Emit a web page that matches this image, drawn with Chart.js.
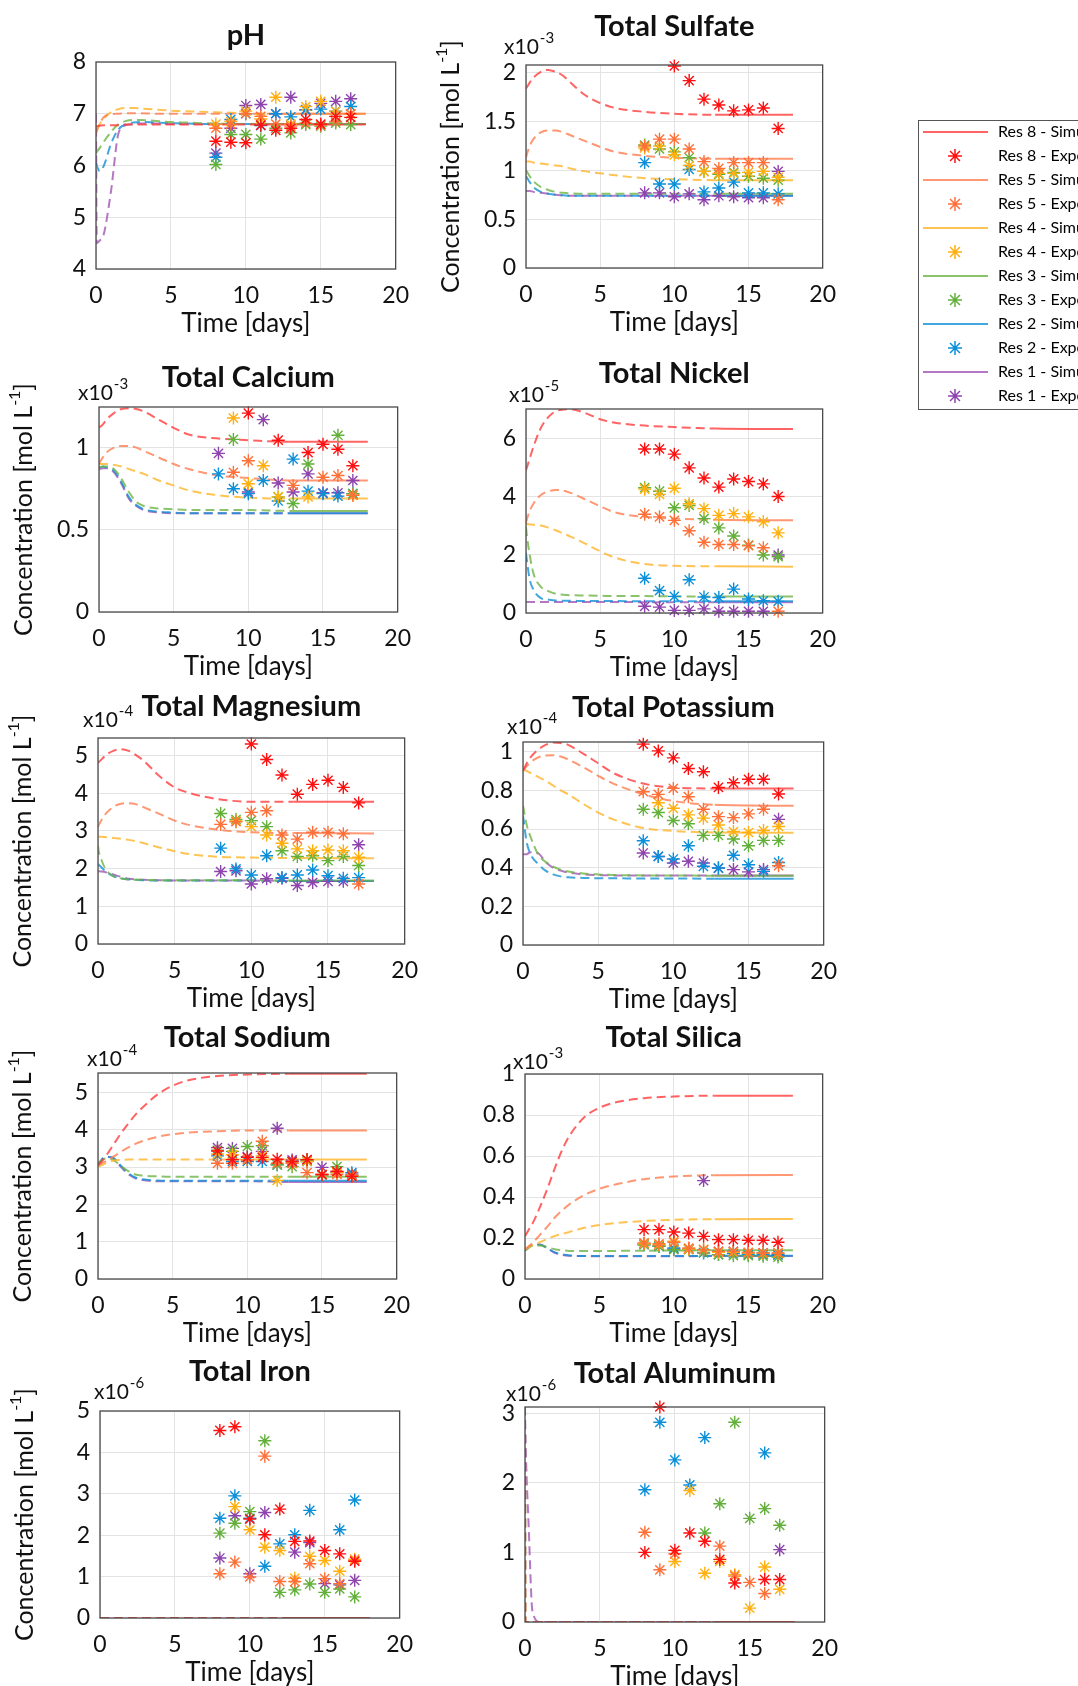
<!DOCTYPE html>
<html>
<head>
<meta charset="utf-8">
<title>Reservoir chemistry</title>
<script src="https://cdn.jsdelivr.net/npm/chart.js@4.4.1/dist/chart.umd.min.js"></script>
<style>
  html, body { margin: 0; padding: 0; background: #fff; overflow: hidden; }
  body { width: 1078px; height: 1686px; position: relative; }
  canvas.panel { position: absolute; }
  #legendBox { position: absolute; left: 918px; top: 120px; width: 200px; height: 288px;
               border: 1.5px solid #555; overflow: hidden; background: #fff; }
  #legendBox canvas { position: absolute; left: -7px; top: -5px; }
</style>
</head>
<body>
<div id="legendBox"><canvas id="legend" width="500" height="340"></canvas></div>
<script>
// Series (same order everywhere): Res 8, Res 5, Res 4, Res 3, Res 2, Res 1
const SERIES = ['Res 8', 'Res 5', 'Res 4', 'Res 3', 'Res 2', 'Res 1'];
const DAYS = [8, 9, 10, 11, 12, 13, 14, 15, 16, 17];
const T_SIM = [0, 0.05, 0.25, 0.5, 1, 1.5, 2, 2.5, 3, 4, 5, 6, 8, 10, 12.75, 18];
const T_SIM_IRON = [0, 12.75, 18];
const T_SIM_AL = [0, 0.02, 0.25, 0.5, 1, 12.75, 18];
const SOLID_FROM = 12.75;

// pH
const PH_SIM = [
  [6.76, 6.76, 6.77, 6.78, 6.78, 6.78, 6.79, 6.79, 6.79, 6.79, 6.79, 6.79, 6.79, 6.79, 6.79, 6.79],
  [6.62, 6.66, 6.8, 6.93, 6.99, 7.0, 7.01, 7.01, 7.01, 7.0, 7.0, 7.0, 7.0, 7.0, 7.0, 7.0],
  [6.7, 6.72, 6.8, 6.9, 7.03, 7.09, 7.11, 7.11, 7.1, 7.08, 7.06, 7.05, 7.03, 7.01, 7.0, 7.0],
  [6.24, 6.26, 6.34, 6.45, 6.65, 6.8, 6.86, 6.88, 6.88, 6.86, 6.84, 6.83, 6.81, 6.8, 6.8, 6.8],
  [6.05, 6.0, 5.89, 5.98, 6.42, 6.7, 6.8, 6.83, 6.84, 6.83, 6.82, 6.81, 6.8, 6.8, 6.8, 6.8],
  [7.0, 4.5, 4.55, 4.65, 5.5, 6.62, 6.78, 6.8, 6.81, 6.81, 6.8, 6.8, 6.8, 6.8, 6.8, 6.8]
];
const PH_EXP = [
  [6.47, 6.45, 6.44, 6.78, 6.68, 6.72, 6.89, 6.8, 6.95, 6.93],
  [6.72, 6.8, 7.0, 6.95, 6.8, 6.76, 6.82, 6.78, 6.85, 7.0],
  [6.8, 6.85, 7.05, 6.9, 7.32, 6.8, 7.14, 7.24, 7.05, 7.0],
  [6.02, 6.6, 6.6, 6.51, 6.72, 6.63, 6.79, 6.76, 6.82, 6.79],
  [6.16, 6.89, 7.0, 6.77, 7.0, 6.94, 7.07, 7.09, 7.05, 7.14],
  [6.24, 6.72, 7.16, 7.18, 7.0, 7.32, 7.08, 7.2, 7.24, 7.29]
];

// Total sulfate (x10^-3 mol/L)
const SO4_SIM = [
  [1.84, 1.85, 1.9, 1.95, 2.01, 2.03, 2.01, 1.97, 1.9, 1.77, 1.69, 1.64, 1.6, 1.58, 1.57, 1.57],
  [1.13, 1.16, 1.25, 1.32, 1.39, 1.41, 1.41, 1.39, 1.36, 1.3, 1.24, 1.19, 1.15, 1.13, 1.12, 1.12],
  [1.09, 1.09, 1.09, 1.08, 1.07, 1.06, 1.05, 1.04, 1.02, 0.99, 0.97, 0.95, 0.92, 0.91, 0.9, 0.9],
  [1.0, 0.99, 0.94, 0.89, 0.83, 0.8, 0.78, 0.77, 0.765, 0.76, 0.76, 0.76, 0.76, 0.76, 0.76, 0.76],
  [0.94, 0.93, 0.88, 0.83, 0.78, 0.76, 0.75, 0.745, 0.74, 0.74, 0.74, 0.74, 0.74, 0.74, 0.74, 0.74],
  [0.79, 0.79, 0.79, 0.78, 0.77, 0.76, 0.75, 0.745, 0.74, 0.74, 0.74, 0.74, 0.74, 0.74, 0.74, 0.74]
];
const SO4_EXP = [
  [null, null, 2.07, 1.92, 1.73, 1.67, 1.61, 1.62, 1.64, 1.43],
  [1.25, 1.32, 1.32, 1.22, 1.09, 1.02, 1.08, 1.08, 1.08, 0.7],
  [1.23, 1.25, 1.16, 1.05, 0.99, 0.97, 0.97, 0.98, 0.99, 0.93],
  [1.26, 1.22, 1.19, 1.13, 0.99, 0.96, 0.98, 0.94, 0.92, 0.9],
  [1.08, 0.86, 0.86, 1.01, 0.78, 0.82, 0.88, 0.77, 0.77, 0.76],
  [0.77, 0.77, 0.73, 0.76, 0.7, 0.74, 0.73, 0.72, 0.72, 0.99]
];

// Total calcium (x10^-3 mol/L)
const CA_SIM = [
  [1.12, 1.125, 1.14, 1.17, 1.21, 1.235, 1.24, 1.235, 1.22, 1.17, 1.12, 1.08, 1.055, 1.045, 1.035, 1.035],
  [0.9, 0.91, 0.94, 0.97, 1.0, 1.01, 1.01, 1.0, 0.98, 0.94, 0.9, 0.87, 0.83, 0.815, 0.8, 0.8],
  [0.9, 0.9, 0.9, 0.9, 0.895, 0.885, 0.87, 0.855, 0.84, 0.8, 0.77, 0.74, 0.71, 0.695, 0.69, 0.69],
  [0.88, 0.88, 0.885, 0.885, 0.87, 0.81, 0.73, 0.67, 0.645, 0.63, 0.625, 0.62, 0.62, 0.62, 0.615, 0.615],
  [0.88, 0.88, 0.885, 0.88, 0.86, 0.79, 0.7, 0.65, 0.625, 0.61, 0.605, 0.6, 0.6, 0.6, 0.6, 0.6],
  [0.87, 0.87, 0.875, 0.875, 0.85, 0.78, 0.69, 0.645, 0.62, 0.605, 0.6, 0.6, 0.6, 0.6, 0.6, 0.6]
];
const CA_EXP = [
  [null, null, 1.21, null, 1.045, null, 0.97, 1.02, 0.99, 0.89],
  [null, 0.85, 0.92, null, null, 0.77, null, 0.82, 0.83, 0.71],
  [null, 1.18, 0.78, 0.89, 0.7, null, 0.7, null, null, 0.71],
  [null, 1.05, null, null, 0.7, 0.66, 0.9, null, 1.075, 0.72],
  [0.84, 0.75, 0.72, 0.8, 0.675, 0.93, 0.735, 0.72, 0.705, 0.72],
  [0.965, null, 0.73, 1.17, 0.785, 0.73, 0.84, 0.725, 0.725, 0.8]
];

// Total nickel (x10^-5 mol/L)
const NI_SIM = [
  [4.9, 4.98, 5.3, 5.7, 6.35, 6.72, 6.92, 6.98, 6.99, 6.86, 6.65, 6.53, 6.43, 6.38, 6.33, 6.31],
  [3.1, 3.2, 3.5, 3.75, 4.05, 4.17, 4.22, 4.2, 4.12, 3.9, 3.66, 3.45, 3.3, 3.24, 3.2, 3.18],
  [3.05, 3.05, 3.04, 3.03, 3.0, 2.93, 2.84, 2.73, 2.62, 2.38, 2.12, 1.9, 1.68, 1.62, 1.6, 1.59],
  [2.95, 2.7, 2.0, 1.36, 0.9, 0.75, 0.66, 0.63, 0.61, 0.6, 0.59, 0.58, 0.58, 0.57, 0.57, 0.57],
  [2.05, 1.85, 1.15, 0.8, 0.51, 0.46, 0.43, 0.42, 0.42, 0.41, 0.41, 0.41, 0.4, 0.4, 0.4, 0.4],
  [0.38, 0.38, 0.38, 0.38, 0.38, 0.38, 0.38, 0.38, 0.38, 0.38, 0.38, 0.38, 0.37, 0.37, 0.37, 0.37]
];
const NI_EXP = [
  [5.63, 5.63, 5.45, 4.98, 4.63, 4.32, 4.6, 4.51, 4.43, 4.0],
  [3.39, 3.3, 3.18, 2.82, 2.43, 2.35, 2.35, 2.31, 2.24, 0.06],
  [4.25, 4.07, 4.28, 3.75, 3.58, 3.35, 3.41, 3.3, 3.13, 2.75],
  [4.3, 4.18, 3.61, 3.69, 3.24, 2.92, 2.64, 2.33, 1.99, 1.93],
  [1.19, 0.77, 0.57, 1.14, 0.55, 0.53, 0.82, 0.48, 0.42, 0.4],
  [0.23, 0.2, 0.09, 0.09, 0.14, 0.06, 0.06, 0.06, 0.06, 1.99]
];

// Total magnesium (x10^-4 mol/L)
const MG_SIM = [
  [4.8, 4.82, 4.9, 5.0, 5.12, 5.16, 5.12, 5.0, 4.85, 4.45, 4.15, 4.0, 3.83, 3.77, 3.77, 3.77],
  [3.1, 3.15, 3.3, 3.45, 3.63, 3.72, 3.73, 3.7, 3.62, 3.45, 3.27, 3.15, 3.02, 2.96, 2.94, 2.93],
  [2.84, 2.84, 2.84, 2.83, 2.81, 2.79, 2.76, 2.72, 2.67, 2.56, 2.46, 2.38, 2.31, 2.29, 2.28, 2.27],
  [2.6, 2.45, 2.2, 1.98, 1.8, 1.74, 1.71, 1.7, 1.7, 1.69, 1.69, 1.69, 1.69, 1.69, 1.68, 1.68],
  [2.12, 2.1, 2.02, 1.92, 1.8, 1.74, 1.71, 1.7, 1.69, 1.68, 1.68, 1.68, 1.68, 1.68, 1.67, 1.67],
  [1.93, 1.93, 1.92, 1.9, 1.84, 1.78, 1.73, 1.71, 1.7, 1.69, 1.68, 1.68, 1.68, 1.68, 1.67, 1.67]
];
const MG_EXP = [
  [null, null, 5.3, 4.89, 4.48, 3.97, 4.23, 4.34, 4.15, 3.74],
  [3.17, 3.24, 3.49, 3.53, 2.89, 2.78, 2.96, 2.96, 2.92, 1.59],
  [null, 3.26, 3.11, 2.89, 2.67, 2.52, 2.47, 2.49, 2.47, 2.3],
  [3.46, 3.3, 3.27, 3.11, 2.47, 2.32, 2.34, 2.21, 2.32, 2.08],
  [2.54, 1.99, 1.83, 2.34, 1.76, 1.83, 1.96, 1.81, 1.74, 1.76],
  [1.92, 1.94, 1.59, 1.73, 1.74, 1.55, 1.63, 1.66, 1.66, 2.63]
];

// Total potassium (x10^-4 mol/L)
const K_SIM = [
  [0.905, 0.91, 0.94, 0.97, 1.01, 1.035, 1.047, 1.045, 1.035, 0.99, 0.94, 0.89, 0.835, 0.815, 0.81, 0.81],
  [0.9, 0.905, 0.925, 0.945, 0.97, 0.98, 0.982, 0.975, 0.96, 0.92, 0.875, 0.835, 0.78, 0.745, 0.725, 0.72],
  [0.905, 0.905, 0.9, 0.89, 0.87, 0.85, 0.825, 0.8, 0.78, 0.73, 0.685, 0.65, 0.605, 0.59, 0.582, 0.58],
  [0.72, 0.7, 0.62, 0.56, 0.47, 0.43, 0.405, 0.39, 0.38, 0.37, 0.365, 0.362, 0.36, 0.36, 0.358, 0.358],
  [0.67, 0.64, 0.53, 0.47, 0.42, 0.385, 0.365, 0.355, 0.35, 0.347, 0.345, 0.345, 0.344, 0.344, 0.343, 0.343],
  [0.47, 0.47, 0.47, 0.48, 0.475, 0.43, 0.4, 0.385, 0.375, 0.365, 0.362, 0.36, 0.36, 0.36, 0.36, 0.36]
];
const K_EXP = [
  [1.039, 1.004, 0.968, 0.913, 0.896, 0.815, 0.839, 0.857, 0.857, 0.781],
  [0.793, 0.779, 0.81, 0.767, 0.702, 0.664, 0.659, 0.678, 0.702, 0.41],
  [null, 0.736, 0.707, 0.673, 0.656, 0.621, 0.587, 0.582, 0.592, 0.613],
  [0.702, 0.685, 0.644, 0.627, 0.567, 0.567, 0.548, 0.513, 0.541, 0.541],
  [0.539, 0.458, 0.445, 0.513, 0.407, 0.398, 0.464, 0.415, 0.381, 0.427],
  [0.476, 0.458, 0.424, 0.433, 0.424, 0.398, 0.39, 0.378, 0.39, 0.65]
];

// Total sodium (x10^-4 mol/L)
const NA_SIM = [
  [3.05, 3.07, 3.15, 3.28, 3.58, 3.88, 4.15, 4.4, 4.6, 4.95, 5.18, 5.32, 5.44, 5.48, 5.5, 5.5],
  [3.05, 3.06, 3.1, 3.15, 3.27, 3.4, 3.52, 3.62, 3.7, 3.81, 3.88, 3.92, 3.96, 3.98, 3.98, 3.98],
  [3.0, 3.01, 3.05, 3.1, 3.17, 3.19, 3.2, 3.2, 3.2, 3.2, 3.2, 3.2, 3.2, 3.2, 3.2, 3.2],
  [3.1, 3.12, 3.18, 3.23, 3.2, 3.04, 2.9, 2.8, 2.77, 2.75, 2.74, 2.74, 2.74, 2.74, 2.74, 2.74],
  [3.05, 3.08, 3.2, 3.27, 3.25, 3.05, 2.85, 2.72, 2.67, 2.64, 2.63, 2.63, 2.63, 2.63, 2.63, 2.63],
  [3.05, 3.08, 3.2, 3.28, 3.24, 3.02, 2.82, 2.7, 2.65, 2.62, 2.62, 2.62, 2.62, 2.62, 2.6, 2.6]
];
const NA_EXP = [
  [3.43, 3.2, 3.26, 3.26, 3.21, 3.15, 3.2, 2.8, 2.88, 2.75],
  [3.1, 3.1, 3.19, 3.69, 3.1, 3.1, 2.85, 2.8, 2.8, 2.78],
  [3.35, 3.33, 3.2, 3.3, 2.64, 3.1, 3.15, 2.8, 2.85, 2.75],
  [3.45, 3.42, 3.55, 3.57, 3.06, 3.01, 3.19, 2.79, 3.01, 2.78],
  [3.3, 3.15, 3.15, 3.15, 3.06, 3.15, 3.15, 2.79, 2.85, 2.85],
  [3.52, 3.5, 3.28, 3.42, 4.04, 3.19, 3.19, 2.99, 2.88, 2.81]
];

// Total silica (x10^-3 mol/L)
const SI_SIM = [
  [0.21, 0.215, 0.24, 0.27, 0.35, 0.44, 0.54, 0.63, 0.7, 0.79, 0.835, 0.86, 0.882, 0.89, 0.894, 0.894],
  [0.145, 0.148, 0.16, 0.175, 0.215, 0.255, 0.3, 0.335, 0.365, 0.41, 0.44, 0.46, 0.487, 0.5, 0.506, 0.507],
  [0.145, 0.147, 0.155, 0.165, 0.18, 0.195, 0.21, 0.22, 0.23, 0.25, 0.263, 0.272, 0.283, 0.289, 0.292, 0.293],
  [0.14, 0.142, 0.152, 0.162, 0.164, 0.155, 0.145, 0.14, 0.137, 0.136, 0.136, 0.137, 0.138, 0.139, 0.14, 0.14],
  [0.14, 0.142, 0.155, 0.165, 0.167, 0.15, 0.13, 0.12, 0.115, 0.112, 0.112, 0.112, 0.112, 0.112, 0.113, 0.113],
  [0.14, 0.143, 0.156, 0.166, 0.168, 0.15, 0.128, 0.118, 0.114, 0.112, 0.111, 0.111, 0.111, 0.111, 0.112, 0.112]
];
const SI_EXP = [
  [0.241, 0.241, 0.229, 0.224, 0.208, 0.192, 0.192, 0.189, 0.189, 0.179],
  [0.176, 0.172, 0.179, 0.151, 0.143, 0.135, 0.135, 0.13, 0.127, 0.127],
  [0.172, 0.167, 0.184, 0.146, 0.143, 0.13, 0.13, 0.127, 0.125, 0.125],
  [0.167, 0.159, 0.143, 0.143, 0.13, 0.119, 0.114, 0.114, 0.111, 0.107],
  [0.167, 0.159, 0.151, 0.146, 0.127, 0.119, 0.124, 0.119, 0.119, 0.117],
  [0.172, 0.163, 0.146, 0.146, 0.48, 0.135, 0.135, 0.127, 0.127, 0.119]
];

// Total iron (x10^-6 mol/L)
const FE_SIM = [
  [0, 0, 0], [0, 0, 0], [0, 0, 0], [0, 0, 0], [0, 0, 0], [0, 0, 0]
];
const FE_EXP = [
  [4.53, 4.62, 2.39, 2.01, 2.63, 1.85, 1.86, 1.63, 1.55, 1.37],
  [1.07, 1.35, 0.99, 3.91, 0.88, 0.88, 1.31, 0.95, 0.83, 1.39],
  [null, 2.69, 2.13, 1.71, 1.63, 0.96, 1.49, 1.39, 1.13, 1.42],
  [2.05, 2.29, 2.57, 4.28, 0.62, 0.68, 0.82, 0.62, 0.7, 0.51],
  [2.41, 2.95, 2.41, 1.25, 1.79, 2.01, 2.6, null, 2.13, 2.85],
  [1.45, 2.47, 1.07, 2.55, null, 1.59, 1.82, 0.83, 0.8, 0.91]
];

// Total aluminum (x10^-6 mol/L)
const AL_SIM = [
  [3.1, 0, 0, 0, 0, 0, 0],
  [3.1, 0, 0, 0, 0, 0, 0],
  [3.1, 0, 0, 0, 0, 0, 0],
  [3.1, 0, 0, 0, 0, 0, 0],
  [3.1, 0, 0, 0, 0, 0, 0],
  [3.1, 2.8, 1.35, 0.15, 0, 0, 0]
];
const AL_EXP = [
  [1.0, 3.09, 1.03, 1.28, 1.16, 0.9, 0.56, null, 0.61, 0.61],
  [1.29, 0.75, 0.98, null, null, 1.09, 0.66, 0.57, 0.41, null],
  [null, null, 0.87, 1.89, 0.7, 0.87, 0.68, 0.2, 0.79, 0.47],
  [null, null, null, null, 1.28, 1.7, 2.87, 1.49, 1.63, 1.39],
  [1.9, 2.87, 2.33, 1.97, 2.65, null, null, null, 2.43, null],
  [null, null, null, null, null, null, null, null, null, 1.04]
];

const EXP_COLORS = ['#ff1010', '#ff7038', '#ffb010', '#62b03a', '#0b8fd8', '#8e44ad'];
const SIM_COLORS = ['rgba(255,60,60,0.8)', 'rgba(255,125,80,0.8)', 'rgba(255,180,40,0.8)',
                    'rgba(110,180,70,0.8)', 'rgba(20,145,215,0.8)', 'rgba(160,85,180,0.8)'];
const FONT = 'Lato';
const GRID = '#e3e3e3';

// space around each plot box inside its canvas
const PAD_L = 105, PAD_R = 22, PAD_T = 60, PAD_B = 80;

// plot boxes in page pixels: [left, top, right, bottom]; expo = [text, dx, dy] for the x10^n label
const PANELS = [
  { title: 'pH', rect: [96, 62, 400, 269], titleGap: 26, yMin: 4, yMax: 8, yStep: 1,
    t: T_SIM, sim: PH_SIM, exp: PH_EXP },
  { title: 'Total Sulfate', rect: [526, 65, 827, 268], titleGap: 38, yMin: 0, yMax: 2.08, yStep: 0.5,
    expo: ['-3', -22, 18], ylabel: true, t: T_SIM, sim: SO4_SIM, exp: SO4_EXP },
  { title: 'Total Calcium', rect: [99, 407, 402, 612], titleGap: 29, yMin: 0, yMax: 1.247, yStep: 0.5,
    expo: ['-3', -21, 14], ylabel: true, t: T_SIM, sim: CA_SIM, exp: CA_EXP },
  { title: 'Total Nickel', rect: [526, 409, 827, 613], titleGap: 35, yMin: 0, yMax: 7, yStep: 2,
    expo: ['-5', -17, 14], t: T_SIM, sim: NI_SIM, exp: NI_EXP },
  { title: 'Total Magnesium', rect: [98, 738, 409, 944], titleGap: 31, yMin: 0, yMax: 5.46, yStep: 1,
    expo: ['-4', -15, 18], ylabel: true, t: T_SIM, sim: MG_SIM, exp: MG_EXP },
  { title: 'Total Potassium', rect: [523, 742, 828, 945], titleGap: 34, yMin: 0, yMax: 1.05, yStep: 0.2,
    expo: ['-4', -16, 15], t: T_SIM, sim: K_SIM, exp: K_EXP },
  { title: 'Total Sodium', rect: [98, 1073, 401, 1279], titleGap: 35, yMin: 0, yMax: 5.52, yStep: 1,
    expo: ['-4', -11, 14], ylabel: true, t: T_SIM, sim: NA_SIM, exp: NA_EXP },
  { title: 'Total Silica', rect: [525, 1074, 827, 1279], titleGap: 36, yMin: 0, yMax: 1, yStep: 0.2,
    expo: ['-3', -12, 12], t: T_SIM, sim: SI_SIM, exp: SI_EXP },
  { title: 'Total Iron', rect: [100, 1411, 404, 1618], titleGap: 39, yMin: 0, yMax: 5, yStep: 1,
    expo: ['-6', -6, 19], ylabel: true, t: T_SIM_IRON, sim: FE_SIM, exp: FE_EXP },
  { title: 'Total Aluminum', rect: [525, 1407, 829, 1622], titleGap: 33, yMin: 0, yMax: 3.09, yStep: 1,
    expo: ['-6', -19, 13], t: T_SIM_AL, sim: AL_SIM, exp: AL_EXP }
];

// Box, titles, exponent and axis labels (MATLAB look)
const decoPlugin = {
  id: 'deco',
  afterDraw(chart, args, opts) {
    const { ctx, chartArea: a } = chart;
    const cx = (a.left + a.right) / 2;
    ctx.save();
    ctx.strokeStyle = '#4a4a4a';
    ctx.lineWidth = 1.3;
    ctx.strokeRect(a.left, a.top, a.right - a.left, a.bottom - a.top);

    ctx.fillStyle = '#111';
    ctx.textAlign = 'center';
    ctx.textBaseline = 'middle';
    ctx.font = 'bold 29px ' + FONT;
    ctx.fillText(opts.title, cx, a.top - opts.titleGap);
    ctx.font = '26px ' + FONT;
    ctx.fillText('Time [days]', cx, a.bottom + 55);

    if (opts.expo) {
      const [txt, dx, dy] = opts.expo;
      ctx.textAlign = 'left';
      ctx.font = '21px ' + FONT;
      const x0 = a.left + dx, y0 = a.top - dy;
      ctx.fillText('x10', x0, y0);
      const w = ctx.measureText('x10').width;
      ctx.font = '15px ' + FONT;
      ctx.fillText(txt, x0 + w + 1, y0 - 9);
    }

    if (opts.ylabel) {
      ctx.translate(a.left - 75, (a.top + a.bottom) / 2);
      ctx.rotate(-Math.PI / 2);
      ctx.textAlign = 'left';
      const main = 'Concentration [mol L', sup = '-1', end = ']';
      ctx.font = '25px ' + FONT;
      const w1 = ctx.measureText(main).width, w3 = ctx.measureText(end).width;
      ctx.font = '16px ' + FONT;
      const w2 = ctx.measureText(sup).width;
      let x = -(w1 + w2 + w3) / 2;
      ctx.font = '25px ' + FONT;
      ctx.fillText(main, x, 0);
      x += w1;
      ctx.font = '16px ' + FONT;
      ctx.fillText(sup, x, -9);
      x += w2;
      ctx.font = '25px ' + FONT;
      ctx.fillText(end, x, 0);
    }
    ctx.restore();
  }
};

function fmt(v) {
  return String(Math.round(v * 100) / 100);
}

function makePanel(p) {
  const [l, t, r, b] = p.rect;
  const canvas = document.createElement('canvas');
  canvas.className = 'panel';
  canvas.width = (r - l) + PAD_L + PAD_R;
  canvas.height = (b - t) + PAD_T + PAD_B;
  canvas.style.left = (l - PAD_L) + 'px';
  canvas.style.top = (t - PAD_T) + 'px';
  document.body.appendChild(canvas);

  const datasets = [];
  SERIES.forEach((name, i) => {
    datasets.push({
      type: 'line',
      label: name + ' - Sim',
      data: p.t.map((x, k) => ({ x, y: p.sim[i][k] })),
      borderColor: SIM_COLORS[i],
      borderWidth: 2,
      pointRadius: 0,
      fill: false,
      cubicInterpolationMode: 'monotone',
      segment: { borderDash: c => (c.p1.parsed.x <= SOLID_FROM ? [9, 5] : []) },
      order: 2
    });
    datasets.push({
      type: 'scatter',
      label: name + ' - Exp',
      data: DAYS.map((x, k) => ({ x, y: p.exp[i][k] })),
      pointStyle: 'star',
      pointRadius: 6.5,
      borderColor: EXP_COLORS[i],
      backgroundColor: EXP_COLORS[i],
      borderWidth: 1.4,
      clip: 10,
      order: 1
    });
  });

  const tickFont = { family: FONT, size: 23 };
  new Chart(canvas, {
    type: 'scatter',
    data: { datasets },
    plugins: [decoPlugin],
    options: {
      responsive: false,
      animation: false,
      events: [],
      layout: { padding: { left: 0, top: PAD_T, right: PAD_R, bottom: 0 } },
      plugins: {
        legend: { display: false },
        tooltip: { enabled: false },
        deco: { title: p.title, titleGap: p.titleGap, expo: p.expo, ylabel: p.ylabel }
      },
      scales: {
        x: {
          type: 'linear', min: 0, max: 20,
          ticks: { stepSize: 5, font: tickFont, color: '#111', padding: 13, maxRotation: 0 },
          grid: { color: GRID, drawTicks: false },
          border: { display: false },
          afterFit: s => { s.height = PAD_B; }
        },
        y: {
          type: 'linear', min: p.yMin, max: p.yMax,
          ticks: { stepSize: p.yStep, includeBounds: false, font: tickFont, color: '#111', padding: 10, callback: fmt },
          grid: { color: GRID, drawTicks: false },
          border: { display: false },
          afterFit: s => { s.width = PAD_L; }
        }
      }
    }
  });
}

// small marker images for the legend
function lineSwatch(color) {
  const c = document.createElement('canvas');
  c.width = 65; c.height = 4;
  const g = c.getContext('2d');
  g.strokeStyle = color; g.lineWidth = 2;
  g.beginPath(); g.moveTo(0, 2); g.lineTo(65, 2); g.stroke();
  return c;
}

function starSwatch(color) {
  const c = document.createElement('canvas');
  c.width = 18; c.height = 18;
  const g = c.getContext('2d');
  g.strokeStyle = color; g.lineWidth = 1.5;
  g.beginPath();
  for (let k = 0; k < 4; k++) {
    const ang = k * Math.PI / 4;
    g.moveTo(9 - 7 * Math.cos(ang), 9 - 7 * Math.sin(ang));
    g.lineTo(9 + 7 * Math.cos(ang), 9 + 7 * Math.sin(ang));
  }
  g.stroke();
  return c;
}

// Legend drawn by Chart.js in its own canvas
function makeLegend() {
  const items = [];
  SERIES.forEach((name, i) => {
    items.push({ text: name + ' - Simulation', pointStyle: lineSwatch(SIM_COLORS[i]),
                 strokeStyle: SIM_COLORS[i], fillStyle: SIM_COLORS[i], lineWidth: 0, hidden: false });
    items.push({ text: name + ' - Experiment', pointStyle: starSwatch(EXP_COLORS[i]),
                 strokeStyle: EXP_COLORS[i], fillStyle: EXP_COLORS[i], lineWidth: 0, hidden: false });
  });
  new Chart(document.getElementById('legend'), {
    type: 'line',
    data: { datasets: [] },
    options: {
      responsive: false,
      animation: false,
      events: [],
      scales: { x: { display: false }, y: { display: false } },
      plugins: {
        tooltip: { enabled: false },
        legend: {
          position: 'left',
          align: 'start',
          labels: {
            usePointStyle: true, pointStyleWidth: 70, boxHeight: 11, padding: 8,
            font: { family: FONT, size: 16 }, color: '#111',
            generateLabels: () => items
          }
        }
      }
    }
  });
}

document.addEventListener('DOMContentLoaded', () => {
  PANELS.forEach(makePanel);
  makeLegend();
});
</script>
</body>
</html>
